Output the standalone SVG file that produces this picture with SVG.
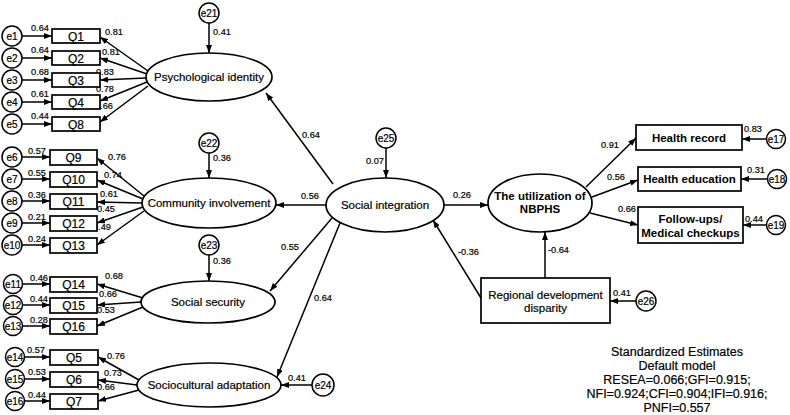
<svg xmlns="http://www.w3.org/2000/svg" width="790" height="415" viewBox="0 0 790 415">
<style>
text{font-family:"Liberation Sans",Arial,sans-serif;fill:#000;stroke:#000;stroke-width:0.2}
.n{font-size:9.2px}
.q{font-size:12px;text-anchor:middle}
.e{font-size:10px;text-anchor:middle}
.t{font-size:11.5px;text-anchor:middle}
.b{font-weight:bold;stroke-width:0}
.s{font-size:12.5px;text-anchor:middle}
.box,.ell,.err{fill:#fff;stroke:#000;stroke-width:1.7}
.err{stroke-width:1.5}
#connectors line{stroke:#000;stroke-width:1.5;marker-end:url(#a)}
</style>
<defs>
<marker id="a" markerWidth="8" markerHeight="6" refX="8" refY="3" orient="auto" markerUnits="userSpaceOnUse"><path d="M0,0 L8,3 L0,6 z" fill="#000"/></marker>
</defs>
<rect width="790" height="415" fill="#fff"/>
<g id="connectors">
<line x1="22" y1="36" x2="52" y2="36"/>
<line x1="22" y1="58" x2="52" y2="58"/>
<line x1="22" y1="80" x2="52" y2="80"/>
<line x1="22" y1="102" x2="52" y2="102"/>
<line x1="22" y1="124" x2="52" y2="124"/>
<line x1="22" y1="157" x2="50" y2="157"/>
<line x1="22" y1="179" x2="50" y2="179"/>
<line x1="22" y1="201" x2="50" y2="201"/>
<line x1="22" y1="223" x2="50" y2="223"/>
<line x1="22" y1="245" x2="50" y2="245"/>
<line x1="22" y1="284" x2="50" y2="284"/>
<line x1="22" y1="305" x2="50" y2="305"/>
<line x1="22" y1="326" x2="50" y2="326"/>
<line x1="24" y1="357" x2="50" y2="357"/>
<line x1="24" y1="379" x2="50" y2="379"/>
<line x1="24" y1="401" x2="50" y2="401"/>
<line x1="148" y1="71" x2="100" y2="37"/>
<line x1="147" y1="74" x2="100" y2="58"/>
<line x1="146" y1="78" x2="100" y2="80"/>
<line x1="147" y1="82" x2="100" y2="101"/>
<line x1="148" y1="86" x2="100" y2="122"/>
<line x1="144" y1="196" x2="97" y2="158"/>
<line x1="143" y1="199" x2="97" y2="180"/>
<line x1="142" y1="203" x2="97" y2="202"/>
<line x1="143" y1="207" x2="97" y2="223"/>
<line x1="144" y1="211" x2="97" y2="245"/>
<line x1="143" y1="298" x2="97" y2="284"/>
<line x1="141" y1="302" x2="97" y2="305"/>
<line x1="143" y1="307" x2="97" y2="326"/>
<line x1="139" y1="380" x2="98" y2="357"/>
<line x1="137" y1="385" x2="98" y2="380"/>
<line x1="139" y1="390" x2="98" y2="401"/>
<line x1="209" y1="23" x2="209" y2="53"/>
<line x1="209" y1="153" x2="209" y2="178"/>
<line x1="209" y1="255" x2="209" y2="281"/>
<line x1="312" y1="385" x2="281" y2="385"/>
<line x1="386" y1="148" x2="386" y2="178"/>
<line x1="333" y1="184" x2="266" y2="93"/>
<line x1="326" y1="205" x2="276" y2="205"/>
<line x1="332" y1="218" x2="270" y2="291"/>
<line x1="340" y1="223" x2="277" y2="377"/>
<line x1="444" y1="205" x2="488" y2="205"/>
<line x1="481" y1="298" x2="433" y2="220"/>
<line x1="545" y1="278" x2="545" y2="232"/>
<line x1="586" y1="187" x2="636" y2="138"/>
<line x1="592" y1="197" x2="638" y2="180"/>
<line x1="590" y1="213" x2="638" y2="225"/>
<line x1="767" y1="139" x2="742" y2="139"/>
<line x1="767" y1="179" x2="741" y2="179"/>
<line x1="767" y1="225" x2="743" y2="225"/>
<line x1="636" y1="301" x2="610" y2="301"/>
</g>
<g id="labels">
<text class="n" x="31" y="31">0.64</text>
<text class="n" x="31" y="53">0.64</text>
<text class="n" x="31" y="75">0.68</text>
<text class="n" x="31" y="97">0.61</text>
<text class="n" x="31" y="119">0.44</text>
<text class="n" x="105" y="35">0.81</text>
<text class="n" x="102" y="55">0.81</text>
<text class="n" x="96" y="75">0.83</text>
<text class="n" x="96" y="92">0.78</text>
<text class="n" x="95" y="109">0.66</text>
<text class="n" x="213" y="35">0.41</text>
<text class="n" x="28" y="154">0.57</text>
<text class="n" x="28" y="176">0.55</text>
<text class="n" x="28" y="198">0.36</text>
<text class="n" x="28" y="220">0.21</text>
<text class="n" x="28" y="242">0.24</text>
<text class="n" x="108" y="160">0.76</text>
<text class="n" x="104" y="178">0.74</text>
<text class="n" x="100" y="197">0.61</text>
<text class="n" x="97" y="212">0.45</text>
<text class="n" x="93" y="230">0.49</text>
<text class="n" x="213" y="161">0.36</text>
<text class="n" x="30" y="281">0.46</text>
<text class="n" x="30" y="302">0.44</text>
<text class="n" x="30" y="323">0.28</text>
<text class="n" x="105" y="279">0.68</text>
<text class="n" x="99" y="297">0.66</text>
<text class="n" x="97" y="313">0.53</text>
<text class="n" x="213" y="264">0.36</text>
<text class="n" x="27" y="353">0.57</text>
<text class="n" x="28" y="375">0.53</text>
<text class="n" x="28" y="398">0.44</text>
<text class="n" x="107" y="359">0.76</text>
<text class="n" x="104" y="376">0.73</text>
<text class="n" x="97" y="390">0.66</text>
<text class="n" x="288" y="381">0.41</text>
<text class="n" x="366" y="164">0.07</text>
<text class="n" x="302" y="138">0.64</text>
<text class="n" x="301" y="199">0.56</text>
<text class="n" x="281" y="250">0.55</text>
<text class="n" x="314" y="301">0.64</text>
<text class="n" x="453" y="198">0.26</text>
<text class="n" x="458" y="255">-0.36</text>
<text class="n" x="548" y="253">-0.64</text>
<text class="n" x="601" y="148">0.91</text>
<text class="n" x="607" y="180">0.56</text>
<text class="n" x="618" y="212">0.66</text>
<text class="n" x="744" y="132">0.83</text>
<text class="n" x="747" y="173">0.31</text>
<text class="n" x="745" y="222">0.44</text>
<text class="n" x="613" y="296">0.41</text>
</g>
<g id="e1"><circle class="err" cx="12" cy="36" r="10"/><text class="e" x="12" y="39.5">e1</text></g>
<g id="e2"><circle class="err" cx="12" cy="58" r="10"/><text class="e" x="12" y="61.5">e2</text></g>
<g id="e3"><circle class="err" cx="12" cy="80" r="10"/><text class="e" x="12" y="83.5">e3</text></g>
<g id="e4"><circle class="err" cx="12" cy="102" r="10"/><text class="e" x="12" y="105.5">e4</text></g>
<g id="e5"><circle class="err" cx="12" cy="124" r="10"/><text class="e" x="12" y="127.5">e5</text></g>
<g id="e6"><circle class="err" cx="12" cy="157" r="10"/><text class="e" x="12" y="160.5">e6</text></g>
<g id="e7"><circle class="err" cx="12" cy="179" r="10"/><text class="e" x="12" y="182.5">e7</text></g>
<g id="e8"><circle class="err" cx="12" cy="201" r="10"/><text class="e" x="12" y="204.5">e8</text></g>
<g id="e9"><circle class="err" cx="12" cy="223" r="10"/><text class="e" x="12" y="226.5">e9</text></g>
<g id="e10"><circle class="err" cx="12" cy="245" r="10"/><text class="e" x="12" y="248.5">e10</text></g>
<g id="e11"><circle class="err" cx="13" cy="284" r="9.5"/><text class="e" x="13" y="287.5">e11</text></g>
<g id="e12"><circle class="err" cx="13" cy="305" r="9.5"/><text class="e" x="13" y="308.5">e12</text></g>
<g id="e13"><circle class="err" cx="13" cy="326" r="9.5"/><text class="e" x="13" y="329.5">e13</text></g>
<g id="e14"><circle class="err" cx="15" cy="357" r="9.5"/><text class="e" x="15" y="360.5">e14</text></g>
<g id="e15"><circle class="err" cx="15" cy="379" r="9.5"/><text class="e" x="15" y="382.5">e15</text></g>
<g id="e16"><circle class="err" cx="15" cy="401" r="9.5"/><text class="e" x="15" y="404.5">e16</text></g>
<g id="e21"><circle class="err" cx="209" cy="13" r="10"/><text class="e" x="209" y="16.5">e21</text></g>
<g id="e22"><circle class="err" cx="209" cy="143" r="10"/><text class="e" x="209" y="146.5">e22</text></g>
<g id="e23"><circle class="err" cx="209" cy="245" r="10"/><text class="e" x="209" y="248.5">e23</text></g>
<g id="e24"><circle class="err" cx="323" cy="385" r="11"/><text class="e" x="323" y="388.5">e24</text></g>
<g id="e25"><circle class="err" cx="386" cy="138" r="10"/><text class="e" x="386" y="141.5">e25</text></g>
<g id="e17"><circle class="err" cx="776" cy="139" r="9.5"/><text class="e" x="776" y="142.5">e17</text></g>
<g id="e18"><circle class="err" cx="777" cy="179" r="9.5"/><text class="e" x="777" y="182.5">e18</text></g>
<g id="e19"><circle class="err" cx="776" cy="225" r="9.5"/><text class="e" x="776" y="228.5">e19</text></g>
<g id="e26"><circle class="err" cx="646" cy="301" r="10"/><text class="e" x="646" y="304.5">e26</text></g>
<g id="Q1"><rect class="box" x="52" y="29" width="48" height="14"/><text class="q" x="76" y="40.5">Q1</text></g>
<g id="Q2"><rect class="box" x="52" y="51" width="48" height="14"/><text class="q" x="76" y="62.5">Q2</text></g>
<g id="Q3"><rect class="box" x="52" y="73" width="48" height="14"/><text class="q" x="76" y="84.5">Q3</text></g>
<g id="Q4"><rect class="box" x="52" y="95" width="48" height="14"/><text class="q" x="76" y="106.5">Q4</text></g>
<g id="Q8"><rect class="box" x="52" y="117" width="48" height="14"/><text class="q" x="76" y="128.5">Q8</text></g>
<g id="Q9"><rect class="box" x="50" y="150" width="47" height="15"/><text class="q" x="73.5" y="162">Q9</text></g>
<g id="Q10"><rect class="box" x="50" y="172" width="47" height="15"/><text class="q" x="73.5" y="184">Q10</text></g>
<g id="Q11"><rect class="box" x="50" y="194" width="47" height="15"/><text class="q" x="73.5" y="206">Q11</text></g>
<g id="Q12"><rect class="box" x="50" y="216" width="47" height="15"/><text class="q" x="73.5" y="228">Q12</text></g>
<g id="Q13"><rect class="box" x="50" y="238" width="47" height="15"/><text class="q" x="73.5" y="250">Q13</text></g>
<g id="Q14"><rect class="box" x="50" y="277" width="47" height="15"/><text class="q" x="73.5" y="289">Q14</text></g>
<g id="Q15"><rect class="box" x="50" y="298" width="47" height="15"/><text class="q" x="73.5" y="310">Q15</text></g>
<g id="Q16"><rect class="box" x="50" y="319" width="47" height="15"/><text class="q" x="73.5" y="331">Q16</text></g>
<g id="Q5"><rect class="box" x="50" y="350" width="48" height="15"/><text class="q" x="74" y="362">Q5</text></g>
<g id="Q6"><rect class="box" x="50" y="372" width="48" height="15"/><text class="q" x="74" y="384">Q6</text></g>
<g id="Q7"><rect class="box" x="50" y="394" width="48" height="15"/><text class="q" x="74" y="406">Q7</text></g>
<g id="psych"><ellipse class="ell" cx="209" cy="77" rx="63" ry="24"/><text class="t" x="209" y="81">Psychological identity</text></g>
<g id="community"><ellipse class="ell" cx="209" cy="203" rx="67" ry="25"/><text class="t" x="209" y="207">Community involvement</text></g>
<g id="security"><ellipse class="ell" cx="208" cy="302" rx="67" ry="21"/><text class="t" x="208" y="306">Social security</text></g>
<g id="adaptation"><ellipse class="ell" cx="209" cy="385" rx="72" ry="22"/><text class="t" x="209" y="389">Sociocultural adaptation</text></g>
<g id="integration"><ellipse class="ell" cx="385" cy="205" rx="59" ry="27"/><text class="t" x="385" y="209">Social integration</text></g>
<g id="nbphs"><ellipse class="ell" cx="540" cy="203" rx="52" ry="29"/><text class="t b" x="540" y="200">The utilization of</text><text class="t b" x="540" y="213">NBPHS</text></g>
<g id="record"><rect class="box" x="636" y="125" width="106" height="25"/><text class="t b" x="689" y="141.5">Health record</text></g>
<g id="education"><rect class="box" x="638" y="167" width="103" height="24"/><text class="t b" x="689.5" y="183">Health education</text></g>
<g id="followups"><rect class="box" x="638" y="207" width="105" height="36"/><text class="t b" x="690.5" y="223">Follow-ups/</text><text class="t b" x="690.5" y="237">Medical checkups</text></g>
<g id="regional"><rect class="box" x="481" y="278" width="129" height="45"/><text class="t" x="545.5" y="298.5">Regional development</text><text class="t" x="545.5" y="312">disparity</text></g>
<g id="caption">
<text class="s" x="677" y="356">Standardized Estimates</text>
<text class="s" x="677" y="370">Default model</text>
<text class="s" x="677" y="384">RESEA=0.066;GFI=0.915;</text>
<text class="s" x="677" y="398">NFI=0.924;CFI=0.904;IFI=0.916;</text>
<text class="s" x="677" y="412">PNFI=0.557</text>
</g>
</svg>
